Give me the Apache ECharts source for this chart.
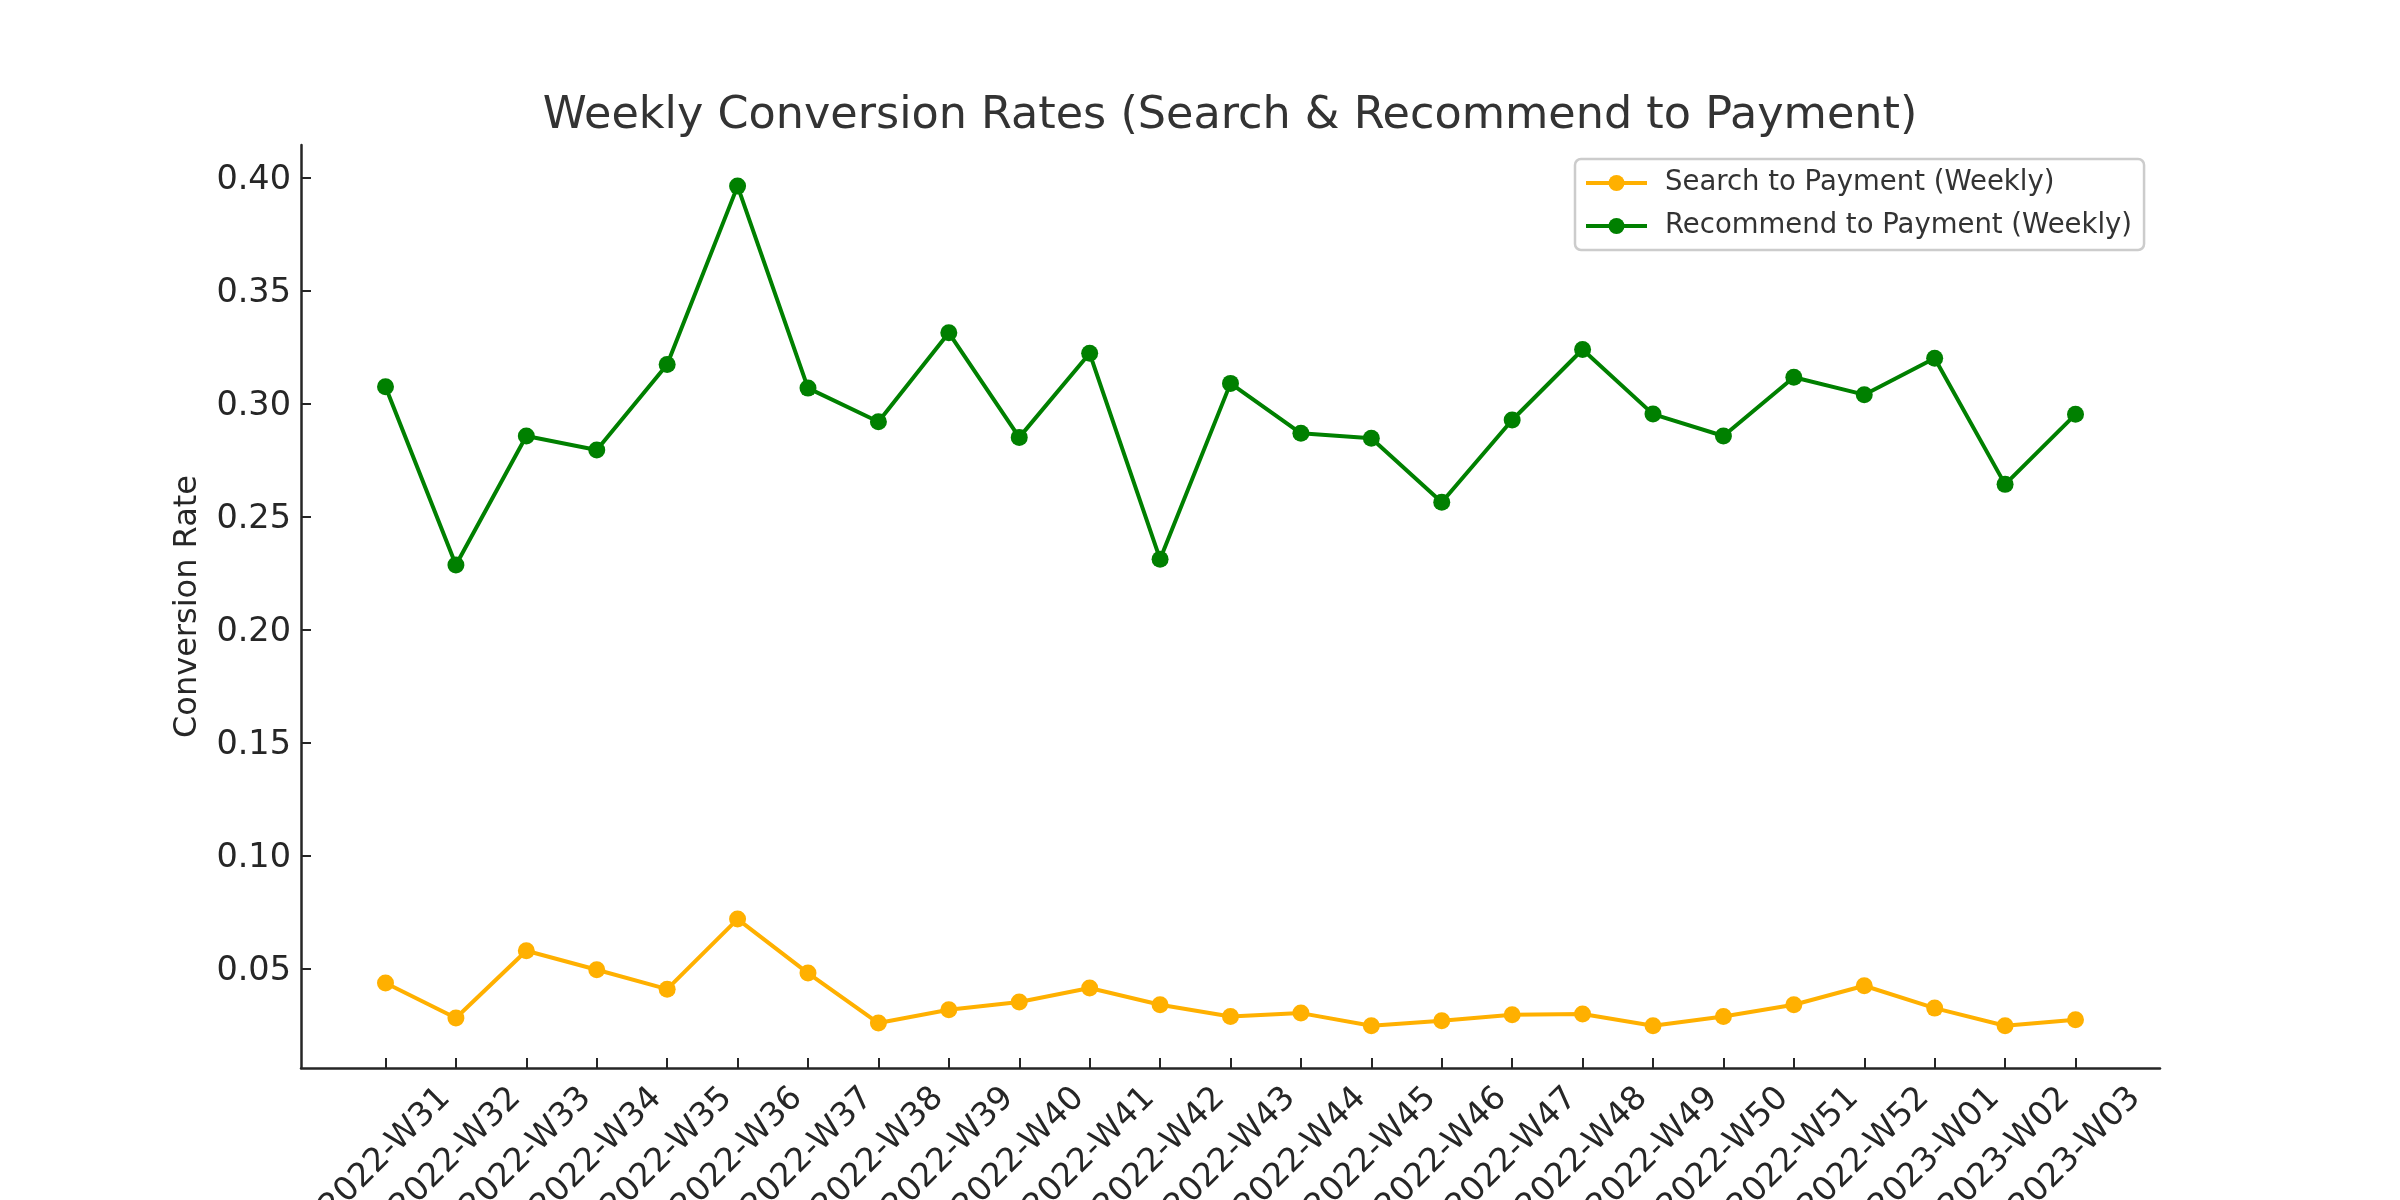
<!DOCTYPE html>
<html>
<head>
<meta charset="utf-8">
<script src="https://cdn.jsdelivr.net/npm/echarts@6/dist/echarts.min.js"></script>
<style>
html,body{margin:0;padding:0;background:#fff;}
#chart{width:2400px;height:1200px;}
</style>
</head>
<body>
<div id="chart"></div>
<script>
const categories = ["2022-W31","2022-W32","2022-W33","2022-W34","2022-W35","2022-W36","2022-W37","2022-W38","2022-W39","2022-W40","2022-W41","2022-W42","2022-W43","2022-W44","2022-W45","2022-W46","2022-W47","2022-W48","2022-W49","2022-W50","2022-W51","2022-W52","2023-W01","2023-W02","2023-W03"];
const searchToPayment = [0.0436,0.0281,0.0579,0.0495,0.0409,0.0719,0.0480,0.0259,0.0318,0.0352,0.0414,0.0340,0.0288,0.0303,0.0247,0.0269,0.0296,0.0299,0.0247,0.0288,0.0340,0.0424,0.0325,0.0247,0.0274];
const recommendToPayment = [0.3075,0.2286,0.2857,0.2795,0.3174,0.3963,0.3069,0.2920,0.3314,0.2851,0.3223,0.2312,0.3090,0.2869,0.2847,0.2564,0.2928,0.3240,0.2954,0.2857,0.3117,0.3040,0.3201,0.2643,0.2953];
const yTicks = [0.05,0.10,0.15,0.20,0.25,0.30,0.35,0.40];
const xTicks = categories.map((c,i)=>i);

const FONT = "DejaVu Sans";
const chart = echarts.init(document.getElementById('chart'), null, {renderer:'canvas'});
const axisColor = '#262626';
chart.setOption({
  animation:false,
  backgroundColor:'#ffffff',
  textStyle:{fontFamily:FONT},
  title:{
    text:'Weekly Conversion Rates (Search & Recommend to Payment)',
    left:1230, textAlign:'center', top:94, padding:0,
    textStyle:{fontFamily:FONT,fontSize:44.5,fontWeight:'normal',color:'#333333'}
  },
  legend:{
    orient:'vertical', left:1575, top:159,
    padding:[9,12,9,9],
    borderColor:'#cccccc', borderWidth:2.5, borderRadius:6,
    backgroundColor:'rgba(255,255,255,0.8)',
    itemWidth:61, itemHeight:20, itemGap:13,
    lineStyle:{width:4},
    textStyle:{fontFamily:FONT,fontSize:27.5,color:'#333333',lineHeight:30,padding:[0,0,0,13]},
    data:['Search to Payment (Weekly)','Recommend to Payment (Weekly)']
  },
  grid:{left:301, top:145, right:240, bottom:132, containLabel:false, outerBoundsMode:'none'},
  xAxis:{
    type:'value', min:-1.2, max:25.2,
    splitLine:{show:false},
    axisLine:{show:true,onZero:false,lineStyle:{color:axisColor,width:2.5}},
    axisTick:{show:true,inside:true,length:10,lineStyle:{color:axisColor,width:2},customValues:xTicks},
    axisLabel:{
      customValues:xTicks,
      formatter:(v)=>categories[Math.round(v)],
      rotate:45, align:'center', verticalAlign:'middle', margin:85,
      fontFamily:FONT, fontSize:33, color:'#262626'
    }
  },
  yAxis:{
    type:'value', min:0.006, max:0.4145,
    name:'Conversion Rate', nameLocation:'middle', nameGap:97, nameRotate:90,
    nameTextStyle:{fontFamily:FONT,fontSize:32,color:'#262626'},
    splitLine:{show:false},
    axisLine:{show:true,onZero:false,lineStyle:{color:axisColor,width:2.5}},
    axisTick:{show:true,inside:true,length:10,lineStyle:{color:axisColor,width:2},customValues:yTicks},
    axisLabel:{
      customValues:yTicks,
      formatter:(v)=>'{t|' + v.toFixed(2) + '}',
      margin:10,
      rich:{t:{fontFamily:FONT, fontSize:33.5, color:'#262626', padding:[6,0,0,0]}}
    }
  },
  series:[
    {
      name:'Search to Payment (Weekly)', type:'line',
      data:searchToPayment.map((v,i)=>[i,v]),
      symbol:'circle', symbolSize:17,
      itemStyle:{color:'#FFB000'},
      lineStyle:{color:'#FFB000',width:4}
    },
    {
      name:'Recommend to Payment (Weekly)', type:'line',
      data:recommendToPayment.map((v,i)=>[i,v]),
      symbol:'circle', symbolSize:17,
      itemStyle:{color:'#008000'},
      lineStyle:{color:'#008000',width:4}
    }
  ]
});
</script>
</body>
</html>
